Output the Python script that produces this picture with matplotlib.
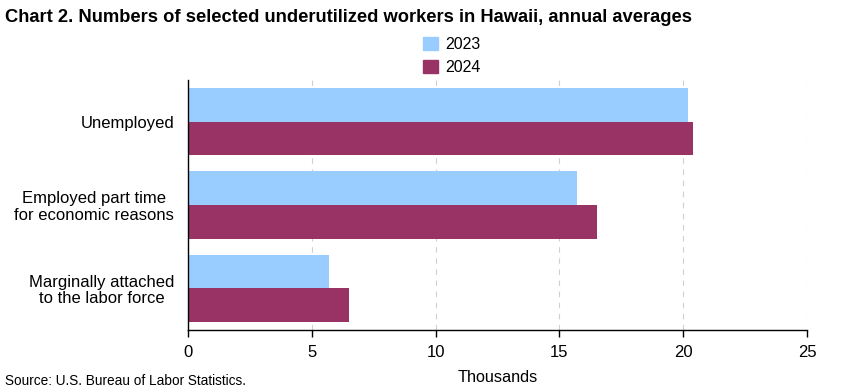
import numpy as np
from matplotlib import pyplot as plt
from matplotlib.patches import Patch

plt.rcParams['font.family'] = ['Liberation Sans', 'DejaVu Sans']

categories = ['Unemployed', 'Employed part time\nfor economic reasons',
              'Marginally attached\nto the labor force']
years = ['2023', '2024']
values_2023 = [20.2, 15.7, 5.7]
values_2024 = [20.4, 16.5, 6.5]
colours = ['#99ccff', '#993366']

fig = plt.figure(figsize=(8.41, 3.90), dpi=100)
ax = fig.add_axes([188 / 841, 1 - 330 / 390, 619 / 841, 250 / 390])

pos = np.arange(len(categories))
h = 0.405
ax.barh(pos - h / 2, values_2023, height=h, color=colours[0], zorder=2)
ax.barh(pos + h / 2, values_2024, height=h, color=colours[1], zorder=2)

ax.set_ylim(2.5, -0.5)
ax.set_xlim(0, 25)
ax.set_xticks(range(0, 26, 5))
ax.set_yticks(pos)
ax.set_yticklabels(categories, fontsize=12, linespacing=1.1,
                   multialignment='center')
ax.tick_params(axis='y', length=0, pad=10)
ax.tick_params(axis='x', length=5, width=1, labelsize=12, pad=6)
ax.xaxis.grid(True, linestyle=(0, (5, 5)), color='#d0d0d0', linewidth=0.8,
              zorder=0)
for side in ['top', 'right']:
    ax.spines[side].set_visible(False)
for side in ['left', 'bottom']:
    ax.spines[side].set_color('black')
    ax.spines[side].set_linewidth(1)
ax.set_xlabel('Thousands', fontsize=11.7, labelpad=7)

fig.text(5 / 841, 1 - 17 / 390, 'Chart 2. Numbers of selected underutilized '
         'workers in Hawaii, annual averages', fontsize=13.2,
         fontweight='bold', va='center', ha='left')
fig.text(5 / 841, 1 - 381 / 390, 'Source: U.S. Bureau of Labor Statistics.',
         fontsize=9.8, va='center', ha='left')

handles = [Patch(color=c, label=y) for c, y in zip(colours, years)]
fig.legend(handles=handles, loc='center', bbox_to_anchor=(452 / 841, 1 - 56 / 390),
           frameon=False, fontsize=11.5, handlelength=0.9, handleheight=0.9,
           handletextpad=0.5, labelspacing=0.5)

fig.savefig('out.png', dpi=100)
